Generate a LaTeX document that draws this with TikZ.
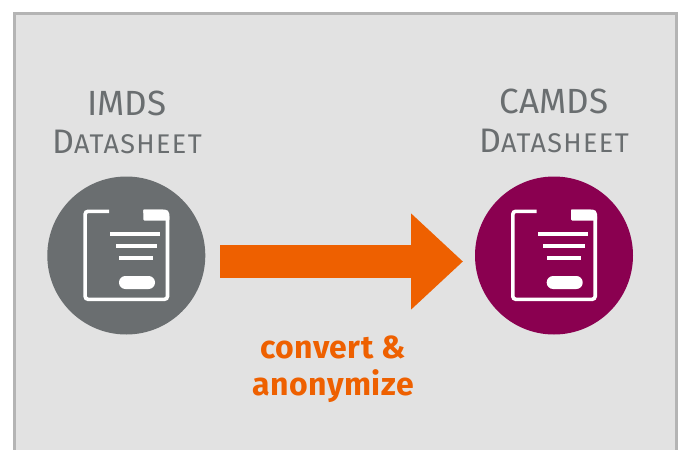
\documentclass[tikz,border=0pt]{standalone}
\usepackage{fontspec}
\setmainfont{Fira Sans}
\usetikzlibrary{arrows.meta}
\definecolor{panelgray}{HTML}{E2E2E2}
\definecolor{framegray}{HTML}{B4B4B4}
\definecolor{slate}{HTML}{6A6E70}
\definecolor{plum}{HTML}{8A0050}
\definecolor{brandorange}{HTML}{EE6000}
\tikzset{
  x=1pt,y=-1pt,
  badge/.style={circle,minimum size=158pt,inner sep=0pt,fill=#1},
  sheettitle/.style={text=slate,align=center,inner sep=0pt},
  flowarrow/.style={draw=brandorange,line width=33pt,-{Triangle[length=52pt,width=93pt,fill=brandorange]}},
  steplabel/.style={text=brandorange,align=center,inner sep=0pt,font=\fontsize{32}{37}\bfseries\selectfont\addfontfeature{LetterSpace=1.5}},
  sheeticon/.pic={
    \draw[white,line width=3.6pt,rounded corners=3pt] (-17.3,-44.2) -- (-41.2,-44.2) -- (-41.2,43.8) -- (41.2,43.8) -- (41.2,-44.2) -- (17,-44.2);
    \fill[white,rounded corners=1pt] (17,-46) -- (37,-46) -- (43,-40) -- (43,-35) -- (17,-35) -- cycle;
    \fill[white] (-16,-24) rectangle (34,-20);
    \fill[white] (-10.6,-11.8) rectangle (30.7,-8);
    \fill[white] (-7,0.2) rectangle (26.7,4.2);
    \fill[white,rounded corners=6.4pt] (-7.3,20.5) rectangle (28.7,33.5);
  }
}
\newcommand{\sheetname}{{\fontsize{34}{34}\selectfont D}{\fontsize{27}{34}\selectfont\addfontfeature{LetterSpace=5}ATASHEET}}
\begin{document}
\begin{tikzpicture}
\useasboundingbox (0,0) rectangle (678,450);
\path[fill=white] (0,0) rectangle (678,450);
\draw[framegray,line width=3pt,fill=panelgray] (14,460) -- (14,13) -- (676,13) -- (676,460);
\node[badge=slate] (imds) at (126.3,255.5) {};
\node[badge=plum] (camds) at (554,255.5) {};
\pic at (imds.center) {sheeticon};
\pic at (camds.center) {sheeticon};
\node[sheettitle,font=\fontsize{35}{35}\selectfont] (imdstitle) at (126.8,103) {IMDS};
\node[sheettitle] (imdssub) at (127,142) {\sheetname};
\node[sheettitle,font=\fontsize{35}{35}\selectfont] (camdstitle) at (554,101) {CAMDS};
\node[sheettitle] (camdssub) at (554,141) {\sheetname};
\coordinate (arrowfrom) at (220,261.5);
\coordinate (arrowto) at (463,261.5);
\draw[flowarrow] (arrowfrom) -- (arrowto);
\node[steplabel] (convert) at (333,369.5) {convert \&\\anonymize};
\end{tikzpicture}
\end{document}
